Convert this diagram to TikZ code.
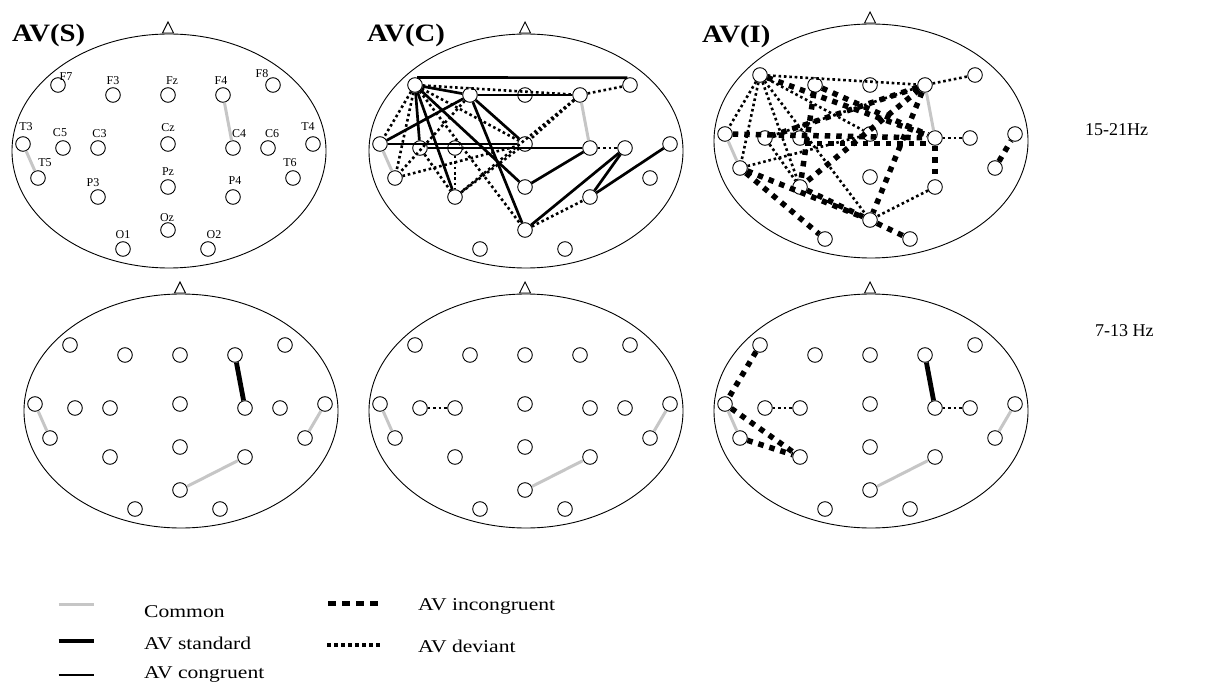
\documentclass[tikz,border=0pt]{standalone}
\usepackage{fontspec}
\setmainfont{Liberation Serif}
\newfontfamily\legfont[FakeStretch=1.2]{Liberation Serif}
\newfontfamily\ttlfont[FakeStretch=1.15]{Liberation Serif}
\newcommand\eeghead[3]{%
  \draw[headline] ({#2+1},{#3-1}) ellipse [x radius=157pt, y radius=117pt];
  \draw[headline,fill=white] ({#2-5.5},{#3-119}) -- (#2,{#3-130}) -- ({#2+5.5},{#3-119}) -- cycle;
  \foreach \n/\dx/\dy in {F7/-110/-67,F3/-55/-57,Fz/0/-57,F4/55/-57,F8/105/-67,
      T3/-145/-8,C5/-105/-4,C3/-70/-4,Cz/0/-8,C4/65/-4,C6/100/-4,T4/145/-8,
      T5/-130/26,T6/125/26,P3/-70/45,Pz/0/35,P4/65/45,Oz/0/78,O1/-45/97,O2/40/97}
    \node[elec] (#1-\n) at ({#2+(\dx)},{#3+(\dy)}) {};
}
\begin{document}
\begin{tikzpicture}[x=1pt,y=-1pt,
  elec/.style={circle,draw,fill=white,line width=0.9pt,minimum size=14.6pt,inner sep=0pt},
  headline/.style={line width=0.9pt},
  common/.style={line width=3pt,draw=gray!45},
  standard/.style={line width=4.8pt},
  congruent/.style={line width=2.7pt},
  incong/.style={line width=5.5pt,dash pattern=on 5.5pt off 6pt},
  deviant/.style={line width=2.6pt,dash pattern=on 2.6pt off 2.8pt},
  elab/.style={font=\fontsize{12}{12}\selectfont,inner sep=0pt,anchor=base},
  ttl/.style={font=\ttlfont\bfseries\fontsize{25}{25}\selectfont,inner sep=0pt,anchor=base west},
  leg/.style={font=\legfont\fontsize{18}{18}\selectfont,inner sep=0pt,anchor=base west},
  band/.style={font=\fontsize{18}{18}\selectfont,inner sep=0pt,anchor=base west}]
\useasboundingbox (0,0) rectangle (1223,687);
% heads
\eeghead{sT}{168}{152}
\eeghead{cT}{525}{152}
\eeghead{iT}{870}{142}
\eeghead{sB}{180}{412}
\eeghead{cB}{525}{412}
\eeghead{iB}{870}{412}
% titles
\node[ttl] (tS) at (12,42) {AV(S)};
\node[ttl] (tC) at (367,42) {AV(C)};
\node[ttl] (tI) at (702,43) {AV(I)};
\node[band] (b1) at (1085,136) {15-21Hz};
\node[band] (b2) at (1095,336) {7-13 Hz};
% electrode labels
\foreach \n/\lx/\ly in {F7/66/81,F3/113/85,Fz/172/85,F4/221/85,F8/262/78,T3/26/131,
    C5/60/137,C3/99.5/137.5,Cz/168/132,C4/239/137.5,C6/272/137.5,T4/308/131,
    T5/45/167,T6/290/167,P3/93/187,Pz/168/176,P4/235/185,Oz/167/221.5,O1/123/238,O2/214/238}
  \node[elab] (lab-\n) at (\lx,\ly) {\n};
% ---- top AV(S)
\foreach \a/\b in {T3/T5,F4/C4} \draw[common] (sT-\a) -- (sT-\b);
% ---- top AV(C)
\foreach \a/\b in {T3/T5,F4/C4} \draw[common] (cT-\a) -- (cT-\b);
\foreach \a/\b in {F7/F4,F4/F8,F7/T3,F7/T5,F7/Cz,F7/Oz,T5/Cz,F4/Cz,F4/P3,P3/Cz,C5/P3,C3/P3,Oz/P4,C4/C6,C5/C3,F3/T5}
  \draw[deviant] (cT-\a) -- (cT-\b);
\draw[congruent] (cT-F7.75) -- (cT-F8.110);
\foreach \a/\b in {F7/F3,F3/F4,F3/T3,T3/Cz,C5/C4,F7/C5,F7/P3,F7/Pz,F3/Cz,F3/Oz,Pz/C4,Oz/C6,P4/C6,P4/T4}
  \draw[congruent] (cT-\a) -- (cT-\b);
% ---- top AV(I)
\foreach \a/\b in {T3/T5,F4/C4} \draw[common] (iT-\a) -- (iT-\b);
\foreach \a/\b in {F7/F4,F4/F8,F7/T3,F7/T5,F7/Cz,F7/Oz,T5/Cz,F4/C5,C5/P3,C4/C6,P4/Oz,F7/P3}
  \draw[deviant] (iT-\a) -- (iT-\b);
\foreach \a/\b in {F7/C4,F3/C4,F3/P3,F4/C5,F4/P3,F4/Oz,T3/C4,T5/O1,T5/Oz,P3/Oz,Oz/O2,C4/P4,T6/T4}
  \draw[incong] (iT-\a) -- (iT-\b);
\draw[incong] (iT-C3.south east) -- (iT-C4.south west);
% ---- bottom AV(S)
\foreach \a/\b in {T3/T5,T4/T6,Oz/P4} \draw[common] (sB-\a) -- (sB-\b);
\draw[standard] (sB-F4) -- (sB-C4);
% ---- bottom AV(C)
\foreach \a/\b in {T3/T5,T4/T6,Oz/P4} \draw[common] (cB-\a) -- (cB-\b);
\draw[deviant] (cB-C5) -- (cB-C3);
% ---- bottom AV(I)
\foreach \a/\b in {T3/T5,T4/T6,Oz/P4} \draw[common] (iB-\a) -- (iB-\b);
\draw[standard] (iB-F4) -- (iB-C4);
\foreach \a/\b in {C5/C3,C4/C6} \draw[deviant] (iB-\a) -- (iB-\b);
\foreach \a/\b in {F7/T3,T3/P3,T5/P3} \draw[incong] (iB-\a) -- (iB-\b);
% ---- legend
\coordinate (g1a) at (58.5,604); \coordinate (g1b) at (94,604);
\coordinate (g2a) at (58.5,641); \coordinate (g2b) at (94,641);
\coordinate (g3a) at (58.5,675); \coordinate (g3b) at (94,675);
\coordinate (g4a) at (328,603); \coordinate (g4b) at (380,603);
\coordinate (g5a) at (327,645); \coordinate (g5b) at (381,645);
\draw[common] (g1a) -- (g1b);
\draw[standard] (g2a) -- (g2b);
\draw[congruent] (g3a) -- (g3b);
\draw[line width=5pt,dash pattern=on 8pt off 6pt] (g4a) -- (g4b);
\draw[line width=3.3pt,dash pattern=on 3.5pt off 3.5pt] (g5a) -- (g5b);
\node[leg] (l1) at (144,617) {Common};
\node[leg] (l2) at (144,649) {AV standard};
\node[leg] (l3) at (144,678) {AV congruent};
\node[leg] (l4) at (418,610.5) {AV incongruent};
\node[leg] (l5) at (418,652) {AV deviant};
\end{tikzpicture}
\end{document}
